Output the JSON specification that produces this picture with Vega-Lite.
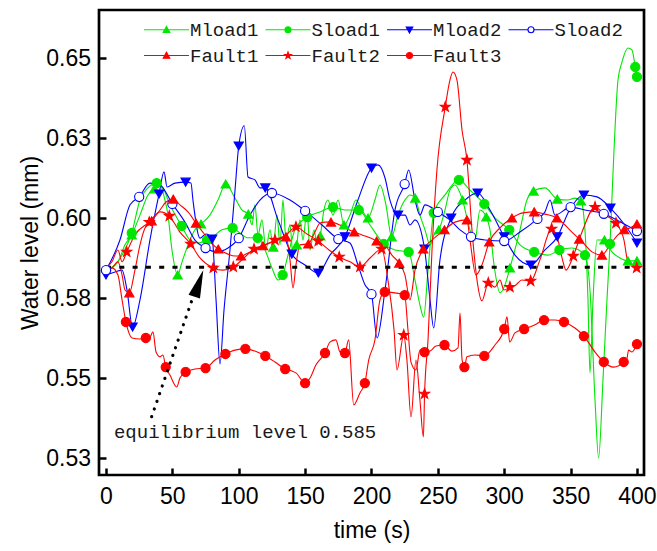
{
 "$schema": "https://vega.github.io/schema/vega-lite/v6.json",
 "width": 545, "height": 465,
 "autosize": {"type": "none"},
 "padding": {"left": 99, "top": 10, "right": 13, "bottom": 76},
 "background": "white",
 "config": {
  "view": {"stroke": "black", "strokeWidth": 2.7},
  "axis": {"domain": false, "grid": false, "tickColor": "black", "tickWidth": 2.5, "tickSize": -7,
   "labelFont": "Liberation Sans", "labelFontSize": 23, "labelColor": "black",
   "titleFont": "Liberation Sans", "titleFontSize": 23, "titleFontWeight": "normal", "titleColor": "black"}
 },
 "datasets": {
  "series": [
{"s":"Mload1","t":0,"v":0.5888,"m":0},{"s":"Mload1","t":9,"v":0.5914,"m":0},{"s":"Mload1","t":14.3,"v":0.5967,"m":0},{"s":"Mload1","t":19.4,"v":0.5998,"m":1},{"s":"Mload1","t":25.6,"v":0.606,"m":0},{"s":"Mload1","t":31.6,"v":0.6123,"m":0},{"s":"Mload1","t":36.4,"v":0.6142,"m":1},{"s":"Mload1","t":40.7,"v":0.6154,"m":0},{"s":"Mload1","t":44.4,"v":0.6107,"m":0},{"s":"Mload1","t":46.7,"v":0.606,"m":0},{"s":"Mload1","t":49.7,"v":0.5951,"m":0},{"s":"Mload1","t":54,"v":0.5873,"m":1},{"s":"Mload1","t":57.3,"v":0.5914,"m":0},{"s":"Mload1","t":61.8,"v":0.5967,"m":0},{"s":"Mload1","t":67,"v":0.6014,"m":0},{"s":"Mload1","t":71.6,"v":0.6032,"m":1},{"s":"Mload1","t":78.3,"v":0.606,"m":0},{"s":"Mload1","t":84.4,"v":0.6107,"m":0},{"s":"Mload1","t":90.2,"v":0.6157,"m":1},{"s":"Mload1","t":97.2,"v":0.6113,"m":0},{"s":"Mload1","t":102.4,"v":0.6076,"m":0},{"s":"Mload1","t":107.2,"v":0.6063,"m":1},{"s":"Mload1","t":110,"v":0.6029,"m":0},{"s":"Mload1","t":112.2,"v":0.6092,"m":0},{"s":"Mload1","t":114.5,"v":0.5998,"m":0},{"s":"Mload1","t":117.5,"v":0.6045,"m":0},{"s":"Mload1","t":120.5,"v":0.5951,"m":0},{"s":"Mload1","t":123.5,"v":0.6014,"m":0},{"s":"Mload1","t":126,"v":0.596,"m":1},{"s":"Mload1","t":128.8,"v":0.606,"m":0},{"s":"Mload1","t":131.1,"v":0.5967,"m":0},{"s":"Mload1","t":133.3,"v":0.6107,"m":0},{"s":"Mload1","t":135.6,"v":0.5982,"m":0},{"s":"Mload1","t":138.6,"v":0.6029,"m":0},{"s":"Mload1","t":140.9,"v":0.5935,"m":0},{"s":"Mload1","t":143.7,"v":0.5967,"m":1},{"s":"Mload1","t":146.1,"v":0.6045,"m":0},{"s":"Mload1","t":148.4,"v":0.5982,"m":0},{"s":"Mload1","t":151.4,"v":0.6076,"m":0},{"s":"Mload1","t":153.7,"v":0.5951,"m":0},{"s":"Mload1","t":156.7,"v":0.6014,"m":0},{"s":"Mload1","t":159,"v":0.5967,"m":0},{"s":"Mload1","t":161.4,"v":0.5995,"m":1},{"s":"Mload1","t":164.2,"v":0.6076,"m":0},{"s":"Mload1","t":167.2,"v":0.6107,"m":0},{"s":"Mload1","t":171,"v":0.606,"m":0},{"s":"Mload1","t":174.8,"v":0.6107,"m":0},{"s":"Mload1","t":179.3,"v":0.6029,"m":1},{"s":"Mload1","t":183.8,"v":0.606,"m":0},{"s":"Mload1","t":188.3,"v":0.6107,"m":0},{"s":"Mload1","t":192.8,"v":0.6076,"m":0},{"s":"Mload1","t":197.4,"v":0.6051,"m":1},{"s":"Mload1","t":202.6,"v":0.6107,"m":0},{"s":"Mload1","t":206.4,"v":0.6154,"m":0},{"s":"Mload1","t":210.9,"v":0.6092,"m":0},{"s":"Mload1","t":215.2,"v":0.5992,"m":1},{"s":"Mload1","t":220,"v":0.606,"m":0},{"s":"Mload1","t":225.2,"v":0.6107,"m":0},{"s":"Mload1","t":229,"v":0.6123,"m":0},{"s":"Mload1","t":233,"v":0.6113,"m":1},{"s":"Mload1","t":236.5,"v":0.606,"m":0},{"s":"Mload1","t":240.3,"v":0.6014,"m":0},{"s":"Mload1","t":244.1,"v":0.5967,"m":0},{"s":"Mload1","t":247.1,"v":0.5998,"m":0},{"s":"Mload1","t":250.8,"v":0.6014,"m":1},{"s":"Mload1","t":255.4,"v":0.6076,"m":0},{"s":"Mload1","t":259.1,"v":0.6138,"m":0},{"s":"Mload1","t":262.9,"v":0.6154,"m":0},{"s":"Mload1","t":268.6,"v":0.6107,"m":1},{"s":"Mload1","t":274.2,"v":0.6014,"m":0},{"s":"Mload1","t":278,"v":0.5982,"m":0},{"s":"Mload1","t":281.7,"v":0.6076,"m":0},{"s":"Mload1","t":286.5,"v":0.6054,"m":1},{"s":"Mload1","t":289.3,"v":0.6014,"m":0},{"s":"Mload1","t":292.3,"v":0.5905,"m":0},{"s":"Mload1","t":296.8,"v":0.5817,"m":0},{"s":"Mload1","t":300.6,"v":0.5842,"m":0},{"s":"Mload1","t":304.3,"v":0.5895,"m":1},{"s":"Mload1","t":311.9,"v":0.6014,"m":0},{"s":"Mload1","t":317.1,"v":0.6107,"m":0},{"s":"Mload1","t":322.1,"v":0.6135,"m":1},{"s":"Mload1","t":330.7,"v":0.6145,"m":0},{"s":"Mload1","t":340,"v":0.611,"m":1},{"s":"Mload1","t":348,"v":0.6107,"m":0},{"s":"Mload1","t":353.3,"v":0.6113,"m":0},{"s":"Mload1","t":357.8,"v":0.6104,"m":1},{"s":"Mload1","t":360.8,"v":0.6014,"m":0},{"s":"Mload1","t":363.1,"v":0.5795,"m":0},{"s":"Mload1","t":364.6,"v":0.5567,"m":0},{"s":"Mload1","t":366.9,"v":0.5795,"m":0},{"s":"Mload1","t":369.9,"v":0.5982,"m":0},{"s":"Mload1","t":375.5,"v":0.5982,"m":1},{"s":"Mload1","t":381.2,"v":0.5945,"m":0},{"s":"Mload1","t":387.2,"v":0.5926,"m":0},{"s":"Mload1","t":393.2,"v":0.5917,"m":1},{"s":"Mload1","t":400,"v":0.5917,"m":1},
{"s":"Sload1","t":0,"v":0.5882,"m":0},{"s":"Sload1","t":6.8,"v":0.5904,"m":0},{"s":"Sload1","t":12.1,"v":0.5935,"m":0},{"s":"Sload1","t":19.4,"v":0.6004,"m":1},{"s":"Sload1","t":25.6,"v":0.6107,"m":0},{"s":"Sload1","t":31.6,"v":0.6145,"m":0},{"s":"Sload1","t":38.2,"v":0.616,"m":1},{"s":"Sload1","t":42.9,"v":0.6145,"m":0},{"s":"Sload1","t":48.2,"v":0.6092,"m":0},{"s":"Sload1","t":57,"v":0.6026,"m":1},{"s":"Sload1","t":63.3,"v":0.5982,"m":0},{"s":"Sload1","t":69.3,"v":0.5973,"m":0},{"s":"Sload1","t":76.1,"v":0.5982,"m":1},{"s":"Sload1","t":82.1,"v":0.5998,"m":0},{"s":"Sload1","t":87.4,"v":0.6014,"m":0},{"s":"Sload1","t":95.4,"v":0.602,"m":1},{"s":"Sload1","t":100.9,"v":0.6004,"m":0},{"s":"Sload1","t":107,"v":0.5989,"m":0},{"s":"Sload1","t":114.3,"v":0.5989,"m":1},{"s":"Sload1","t":119.8,"v":0.5951,"m":0},{"s":"Sload1","t":125,"v":0.5895,"m":0},{"s":"Sload1","t":129.6,"v":0.5857,"m":0},{"s":"Sload1","t":133.1,"v":0.5873,"m":1},{"s":"Sload1","t":137.1,"v":0.5935,"m":0},{"s":"Sload1","t":142.4,"v":0.6014,"m":0},{"s":"Sload1","t":151.6,"v":0.6054,"m":1},{"s":"Sload1","t":161.2,"v":0.607,"m":0},{"s":"Sload1","t":171,"v":0.6085,"m":1},{"s":"Sload1","t":180,"v":0.6076,"m":0},{"s":"Sload1","t":190.4,"v":0.6076,"m":1},{"s":"Sload1","t":198.9,"v":0.6029,"m":0},{"s":"Sload1","t":209.2,"v":0.597,"m":1},{"s":"Sload1","t":217.7,"v":0.5951,"m":0},{"s":"Sload1","t":228,"v":0.5945,"m":1},{"s":"Sload1","t":232.8,"v":0.5857,"m":0},{"s":"Sload1","t":236.5,"v":0.5779,"m":0},{"s":"Sload1","t":239.3,"v":0.5741,"m":0},{"s":"Sload1","t":242.6,"v":0.5888,"m":0},{"s":"Sload1","t":246.9,"v":0.6067,"m":1},{"s":"Sload1","t":255.4,"v":0.6123,"m":0},{"s":"Sload1","t":265.9,"v":0.617,"m":1},{"s":"Sload1","t":274.2,"v":0.6138,"m":0},{"s":"Sload1","t":285,"v":0.6095,"m":1},{"s":"Sload1","t":293,"v":0.6051,"m":0},{"s":"Sload1","t":303.8,"v":0.6014,"m":1},{"s":"Sload1","t":311.9,"v":0.5967,"m":0},{"s":"Sload1","t":322.6,"v":0.5945,"m":1},{"s":"Sload1","t":333,"v":0.5935,"m":0},{"s":"Sload1","t":341.6,"v":0.5951,"m":1},{"s":"Sload1","t":351,"v":0.5957,"m":0},{"s":"Sload1","t":360.8,"v":0.5935,"m":1},{"s":"Sload1","t":364.6,"v":0.5826,"m":0},{"s":"Sload1","t":368.4,"v":0.5482,"m":0},{"s":"Sload1","t":371.1,"v":0.5301,"m":0},{"s":"Sload1","t":374.4,"v":0.5545,"m":0},{"s":"Sload1","t":377.4,"v":0.5795,"m":0},{"s":"Sload1","t":379.7,"v":0.597,"m":1},{"s":"Sload1","t":382.7,"v":0.6263,"m":0},{"s":"Sload1","t":385.7,"v":0.6482,"m":0},{"s":"Sload1","t":388.7,"v":0.6538,"m":0},{"s":"Sload1","t":393.2,"v":0.6582,"m":0},{"s":"Sload1","t":396.2,"v":0.6576,"m":0},{"s":"Sload1","t":398.7,"v":0.6523,"m":1},{"s":"Sload1","t":400,"v":0.6492,"m":1},
{"s":"Mload2","t":0,"v":0.5873,"m":1},{"s":"Mload2","t":6.8,"v":0.5882,"m":0},{"s":"Mload2","t":12.1,"v":0.5888,"m":0},{"s":"Mload2","t":15.8,"v":0.5826,"m":0},{"s":"Mload2","t":20,"v":0.571,"m":1},{"s":"Mload2","t":25.6,"v":0.5795,"m":0},{"s":"Mload2","t":33.1,"v":0.5982,"m":0},{"s":"Mload2","t":40,"v":0.6126,"m":1},{"s":"Mload2","t":43.7,"v":0.6195,"m":0},{"s":"Mload2","t":46,"v":0.6148,"m":0},{"s":"Mload2","t":52,"v":0.616,"m":0},{"s":"Mload2","t":60,"v":0.6163,"m":1},{"s":"Mload2","t":64,"v":0.616,"m":0},{"s":"Mload2","t":65.5,"v":0.6107,"m":0},{"s":"Mload2","t":70.8,"v":0.5988,"m":0},{"s":"Mload2","t":75.3,"v":0.6001,"m":0},{"s":"Mload2","t":80,"v":0.5985,"m":1},{"s":"Mload2","t":82.9,"v":0.5795,"m":0},{"s":"Mload2","t":85.9,"v":0.5595,"m":0},{"s":"Mload2","t":88.9,"v":0.5763,"m":0},{"s":"Mload2","t":93.4,"v":0.5951,"m":0},{"s":"Mload2","t":97.2,"v":0.6138,"m":0},{"s":"Mload2","t":100,"v":0.6276,"m":1},{"s":"Mload2","t":104.2,"v":0.6339,"m":0},{"s":"Mload2","t":107,"v":0.6179,"m":0},{"s":"Mload2","t":112.2,"v":0.617,"m":0},{"s":"Mload2","t":116,"v":0.6145,"m":0},{"s":"Mload2","t":120,"v":0.6145,"m":1},{"s":"Mload2","t":129.6,"v":0.6045,"m":0},{"s":"Mload2","t":140,"v":0.5938,"m":1},{"s":"Mload2","t":149.9,"v":0.5904,"m":0},{"s":"Mload2","t":160,"v":0.5879,"m":1},{"s":"Mload2","t":168.7,"v":0.5935,"m":0},{"s":"Mload2","t":180,"v":0.5992,"m":1},{"s":"Mload2","t":189.8,"v":0.6107,"m":0},{"s":"Mload2","t":200,"v":0.6207,"m":1},{"s":"Mload2","t":204.9,"v":0.6217,"m":0},{"s":"Mload2","t":210.2,"v":0.6176,"m":0},{"s":"Mload2","t":213.9,"v":0.6107,"m":0},{"s":"Mload2","t":220,"v":0.606,"m":1},{"s":"Mload2","t":225.3,"v":0.606,"m":0},{"s":"Mload2","t":229,"v":0.6029,"m":0},{"s":"Mload2","t":232.8,"v":0.6045,"m":0},{"s":"Mload2","t":240,"v":0.5954,"m":1},{"s":"Mload2","t":244.1,"v":0.5795,"m":0},{"s":"Mload2","t":246.9,"v":0.5707,"m":0},{"s":"Mload2","t":251.6,"v":0.592,"m":0},{"s":"Mload2","t":260,"v":0.6051,"m":1},{"s":"Mload2","t":270.4,"v":0.6107,"m":0},{"s":"Mload2","t":280,"v":0.6129,"m":1},{"s":"Mload2","t":289.3,"v":0.6076,"m":0},{"s":"Mload2","t":300,"v":0.5992,"m":1},{"s":"Mload2","t":308.1,"v":0.5935,"m":0},{"s":"Mload2","t":320,"v":0.5904,"m":1},{"s":"Mload2","t":330.7,"v":0.5951,"m":0},{"s":"Mload2","t":340,"v":0.5992,"m":1},{"s":"Mload2","t":349.2,"v":0.6076,"m":0},{"s":"Mload2","t":360,"v":0.6123,"m":1},{"s":"Mload2","t":369.9,"v":0.6117,"m":0},{"s":"Mload2","t":380,"v":0.6082,"m":1},{"s":"Mload2","t":390.9,"v":0.6029,"m":0},{"s":"Mload2","t":400,"v":0.5973,"m":1},
{"s":"Sload2","t":0,"v":0.5888,"m":1},{"s":"Sload2","t":10.5,"v":0.5982,"m":0},{"s":"Sload2","t":18.1,"v":0.6092,"m":0},{"s":"Sload2","t":25,"v":0.6117,"m":1},{"s":"Sload2","t":33.1,"v":0.616,"m":0},{"s":"Sload2","t":40.7,"v":0.6154,"m":0},{"s":"Sload2","t":50,"v":0.6095,"m":1},{"s":"Sload2","t":59.5,"v":0.6038,"m":0},{"s":"Sload2","t":67,"v":0.5982,"m":0},{"s":"Sload2","t":75,"v":0.5957,"m":1},{"s":"Sload2","t":82.9,"v":0.5945,"m":0},{"s":"Sload2","t":91.9,"v":0.5957,"m":0},{"s":"Sload2","t":100,"v":0.5988,"m":1},{"s":"Sload2","t":108.5,"v":0.606,"m":0},{"s":"Sload2","t":116,"v":0.6107,"m":0},{"s":"Sload2","t":125,"v":0.6129,"m":1},{"s":"Sload2","t":138.6,"v":0.6107,"m":0},{"s":"Sload2","t":150,"v":0.6073,"m":1},{"s":"Sload2","t":162.7,"v":0.6029,"m":0},{"s":"Sload2","t":175,"v":0.5985,"m":1},{"s":"Sload2","t":183.8,"v":0.5973,"m":0},{"s":"Sload2","t":189.8,"v":0.5904,"m":0},{"s":"Sload2","t":195.1,"v":0.5842,"m":0},{"s":"Sload2","t":200,"v":0.5813,"m":1},{"s":"Sload2","t":204.2,"v":0.5676,"m":0},{"s":"Sload2","t":210.2,"v":0.5826,"m":0},{"s":"Sload2","t":217.7,"v":0.6076,"m":0},{"s":"Sload2","t":225,"v":0.6157,"m":1},{"s":"Sload2","t":228,"v":0.6201,"m":0},{"s":"Sload2","t":232.8,"v":0.6107,"m":0},{"s":"Sload2","t":236.5,"v":0.606,"m":0},{"s":"Sload2","t":240.3,"v":0.6092,"m":0},{"s":"Sload2","t":250,"v":0.607,"m":1},{"s":"Sload2","t":259.1,"v":0.6045,"m":0},{"s":"Sload2","t":266.7,"v":0.6014,"m":0},{"s":"Sload2","t":275,"v":0.5992,"m":1},{"s":"Sload2","t":285.6,"v":0.5982,"m":0},{"s":"Sload2","t":300,"v":0.5979,"m":1},{"s":"Sload2","t":311.9,"v":0.6007,"m":0},{"s":"Sload2","t":325,"v":0.6048,"m":1},{"s":"Sload2","t":330.7,"v":0.607,"m":0},{"s":"Sload2","t":334.5,"v":0.6107,"m":0},{"s":"Sload2","t":338.2,"v":0.606,"m":0},{"s":"Sload2","t":350,"v":0.6085,"m":1},{"s":"Sload2","t":360.8,"v":0.6076,"m":0},{"s":"Sload2","t":375,"v":0.6064,"m":1},{"s":"Sload2","t":387.2,"v":0.6039,"m":0},{"s":"Sload2","t":400,"v":0.601,"m":1},
{"s":"Fault1","t":0,"v":0.5888,"m":0},{"s":"Fault1","t":4.5,"v":0.5895,"m":0},{"s":"Fault1","t":9,"v":0.5914,"m":0},{"s":"Fault1","t":12.1,"v":0.5873,"m":0},{"s":"Fault1","t":14.3,"v":0.5826,"m":0},{"s":"Fault1","t":17.6,"v":0.5817,"m":1},{"s":"Fault1","t":21.8,"v":0.5888,"m":0},{"s":"Fault1","t":25.6,"v":0.5967,"m":0},{"s":"Fault1","t":29.4,"v":0.602,"m":0},{"s":"Fault1","t":34.4,"v":0.6042,"m":1},{"s":"Fault1","t":40.7,"v":0.6076,"m":0},{"s":"Fault1","t":45.2,"v":0.6101,"m":0},{"s":"Fault1","t":50.7,"v":0.611,"m":1},{"s":"Fault1","t":55.7,"v":0.6092,"m":0},{"s":"Fault1","t":61.8,"v":0.607,"m":0},{"s":"Fault1","t":67.8,"v":0.6035,"m":1},{"s":"Fault1","t":74.6,"v":0.5998,"m":0},{"s":"Fault1","t":79.9,"v":0.597,"m":0},{"s":"Fault1","t":84.6,"v":0.5954,"m":1},{"s":"Fault1","t":91.9,"v":0.5938,"m":0},{"s":"Fault1","t":97.2,"v":0.5932,"m":0},{"s":"Fault1","t":101.7,"v":0.5932,"m":1},{"s":"Fault1","t":108.5,"v":0.5945,"m":0},{"s":"Fault1","t":113,"v":0.5951,"m":0},{"s":"Fault1","t":118.3,"v":0.5964,"m":1},{"s":"Fault1","t":123.5,"v":0.5973,"m":0},{"s":"Fault1","t":129.6,"v":0.5982,"m":0},{"s":"Fault1","t":135.6,"v":0.5992,"m":1},{"s":"Fault1","t":138.6,"v":0.592,"m":0},{"s":"Fault1","t":140.9,"v":0.5832,"m":0},{"s":"Fault1","t":143.1,"v":0.5904,"m":0},{"s":"Fault1","t":146.1,"v":0.5967,"m":0},{"s":"Fault1","t":152.4,"v":0.597,"m":1},{"s":"Fault1","t":157.4,"v":0.6007,"m":0},{"s":"Fault1","t":161.2,"v":0.6035,"m":0},{"s":"Fault1","t":165,"v":0.6038,"m":0},{"s":"Fault1","t":169.5,"v":0.6038,"m":1},{"s":"Fault1","t":176.3,"v":0.6029,"m":0},{"s":"Fault1","t":181.5,"v":0.6017,"m":0},{"s":"Fault1","t":187,"v":0.6007,"m":1},{"s":"Fault1","t":192.8,"v":0.5998,"m":0},{"s":"Fault1","t":198.9,"v":0.5989,"m":0},{"s":"Fault1","t":203.9,"v":0.5979,"m":1},{"s":"Fault1","t":210.2,"v":0.5967,"m":0},{"s":"Fault1","t":215.4,"v":0.5935,"m":0},{"s":"Fault1","t":220.9,"v":0.591,"m":1},{"s":"Fault1","t":225.2,"v":0.5873,"m":0},{"s":"Fault1","t":229,"v":0.5795,"m":0},{"s":"Fault1","t":232.8,"v":0.5888,"m":0},{"s":"Fault1","t":239,"v":0.5954,"m":1},{"s":"Fault1","t":245.6,"v":0.5982,"m":0},{"s":"Fault1","t":255,"v":0.6014,"m":1},{"s":"Fault1","t":262.9,"v":0.6038,"m":0},{"s":"Fault1","t":271.9,"v":0.6045,"m":1},{"s":"Fault1","t":274.2,"v":0.5982,"m":0},{"s":"Fault1","t":278.7,"v":0.5873,"m":0},{"s":"Fault1","t":283.2,"v":0.5904,"m":0},{"s":"Fault1","t":288.7,"v":0.5976,"m":1},{"s":"Fault1","t":296.8,"v":0.602,"m":0},{"s":"Fault1","t":305.8,"v":0.6051,"m":1},{"s":"Fault1","t":314.1,"v":0.6067,"m":0},{"s":"Fault1","t":322.6,"v":0.607,"m":1},{"s":"Fault1","t":330.7,"v":0.6063,"m":0},{"s":"Fault1","t":339.7,"v":0.6051,"m":1},{"s":"Fault1","t":345.8,"v":0.6029,"m":0},{"s":"Fault1","t":351,"v":0.6007,"m":0},{"s":"Fault1","t":356.5,"v":0.5985,"m":1},{"s":"Fault1","t":360.8,"v":0.5967,"m":0},{"s":"Fault1","t":366.1,"v":0.5945,"m":0},{"s":"Fault1","t":373.6,"v":0.5935,"m":1},{"s":"Fault1","t":379.7,"v":0.5967,"m":0},{"s":"Fault1","t":385.7,"v":0.5998,"m":0},{"s":"Fault1","t":390.4,"v":0.6014,"m":1},{"s":"Fault1","t":394.7,"v":0.602,"m":0},{"s":"Fault1","t":400,"v":0.6032,"m":1},
{"s":"Fault2","t":0,"v":0.5895,"m":0},{"s":"Fault2","t":4.5,"v":0.5914,"m":0},{"s":"Fault2","t":9,"v":0.5951,"m":0},{"s":"Fault2","t":12.1,"v":0.5914,"m":0},{"s":"Fault2","t":15.6,"v":0.5945,"m":1},{"s":"Fault2","t":21.8,"v":0.5998,"m":0},{"s":"Fault2","t":32.6,"v":0.6038,"m":1},{"s":"Fault2","t":40.7,"v":0.607,"m":0},{"s":"Fault2","t":47.7,"v":0.6057,"m":1},{"s":"Fault2","t":55.7,"v":0.6007,"m":0},{"s":"Fault2","t":63.8,"v":0.597,"m":1},{"s":"Fault2","t":70.8,"v":0.5926,"m":0},{"s":"Fault2","t":80.8,"v":0.5895,"m":1},{"s":"Fault2","t":88.1,"v":0.5888,"m":0},{"s":"Fault2","t":95.9,"v":0.5898,"m":1},{"s":"Fault2","t":104,"v":0.5926,"m":0},{"s":"Fault2","t":111.5,"v":0.5954,"m":1},{"s":"Fault2","t":119.8,"v":0.5967,"m":0},{"s":"Fault2","t":127.3,"v":0.5982,"m":1},{"s":"Fault2","t":135.6,"v":0.5998,"m":0},{"s":"Fault2","t":143.1,"v":0.6023,"m":1},{"s":"Fault2","t":151.4,"v":0.6001,"m":0},{"s":"Fault2","t":159.9,"v":0.5979,"m":1},{"s":"Fault2","t":168,"v":0.5951,"m":0},{"s":"Fault2","t":175.7,"v":0.5929,"m":1},{"s":"Fault2","t":183.8,"v":0.5914,"m":0},{"s":"Fault2","t":191.3,"v":0.5898,"m":1},{"s":"Fault2","t":198.9,"v":0.5926,"m":0},{"s":"Fault2","t":207.7,"v":0.5954,"m":1},{"s":"Fault2","t":212.4,"v":0.5857,"m":0},{"s":"Fault2","t":217,"v":0.5701,"m":0},{"s":"Fault2","t":219.2,"v":0.5576,"m":0},{"s":"Fault2","t":224.3,"v":0.5685,"m":1},{"s":"Fault2","t":226.7,"v":0.5607,"m":0},{"s":"Fault2","t":229.8,"v":0.5429,"m":0},{"s":"Fault2","t":233.5,"v":0.5607,"m":0},{"s":"Fault2","t":236.5,"v":0.5482,"m":0},{"s":"Fault2","t":239.1,"v":0.5367,"m":0},{"s":"Fault2","t":240,"v":0.5501,"m":1},{"s":"Fault2","t":242.6,"v":0.567,"m":0},{"s":"Fault2","t":245.6,"v":0.5951,"m":0},{"s":"Fault2","t":249.3,"v":0.6201,"m":0},{"s":"Fault2","t":255.6,"v":0.6398,"m":1},{"s":"Fault2","t":259.1,"v":0.6482,"m":0},{"s":"Fault2","t":261.4,"v":0.6507,"m":0},{"s":"Fault2","t":264.4,"v":0.6482,"m":0},{"s":"Fault2","t":268.2,"v":0.6326,"m":0},{"s":"Fault2","t":271.9,"v":0.6232,"m":1},{"s":"Fault2","t":275.7,"v":0.6014,"m":0},{"s":"Fault2","t":279.5,"v":0.5857,"m":0},{"s":"Fault2","t":283.2,"v":0.5792,"m":0},{"s":"Fault2","t":288,"v":0.5848,"m":1},{"s":"Fault2","t":293,"v":0.5835,"m":0},{"s":"Fault2","t":296.8,"v":0.5857,"m":0},{"s":"Fault2","t":299.8,"v":0.5826,"m":0},{"s":"Fault2","t":304.3,"v":0.5835,"m":1},{"s":"Fault2","t":308.8,"v":0.5842,"m":0},{"s":"Fault2","t":313.3,"v":0.5857,"m":0},{"s":"Fault2","t":319.9,"v":0.5854,"m":1},{"s":"Fault2","t":326.9,"v":0.592,"m":0},{"s":"Fault2","t":335.7,"v":0.6017,"m":1},{"s":"Fault2","t":340.5,"v":0.5982,"m":0},{"s":"Fault2","t":344.3,"v":0.5914,"m":0},{"s":"Fault2","t":346.5,"v":0.5888,"m":0},{"s":"Fault2","t":352,"v":0.5932,"m":1},{"s":"Fault2","t":358.6,"v":0.6007,"m":0},{"s":"Fault2","t":368.4,"v":0.6085,"m":1},{"s":"Fault2","t":375.9,"v":0.606,"m":0},{"s":"Fault2","t":384.2,"v":0.6035,"m":1},{"s":"Fault2","t":390.2,"v":0.5982,"m":0},{"s":"Fault2","t":393.2,"v":0.5914,"m":0},{"s":"Fault2","t":397,"v":0.5904,"m":0},{"s":"Fault2","t":399.8,"v":0.5895,"m":1},
{"s":"Fault3","t":0,"v":0.5888,"m":0},{"s":"Fault3","t":4.5,"v":0.5895,"m":0},{"s":"Fault3","t":9,"v":0.5873,"m":0},{"s":"Fault3","t":12.1,"v":0.5795,"m":0},{"s":"Fault3","t":15,"v":0.5726,"m":1},{"s":"Fault3","t":19.6,"v":0.5676,"m":0},{"s":"Fault3","t":25.6,"v":0.5673,"m":0},{"s":"Fault3","t":30,"v":0.5676,"m":1},{"s":"Fault3","t":33.1,"v":0.5679,"m":0},{"s":"Fault3","t":35.4,"v":0.5695,"m":0},{"s":"Fault3","t":37.7,"v":0.5632,"m":0},{"s":"Fault3","t":40.7,"v":0.5617,"m":0},{"s":"Fault3","t":42.9,"v":0.5623,"m":0},{"s":"Fault3","t":45,"v":0.5585,"m":1},{"s":"Fault3","t":48.2,"v":0.556,"m":0},{"s":"Fault3","t":53.3,"v":0.5523,"m":0},{"s":"Fault3","t":55.7,"v":0.5551,"m":0},{"s":"Fault3","t":60,"v":0.557,"m":1},{"s":"Fault3","t":67,"v":0.5579,"m":0},{"s":"Fault3","t":75,"v":0.5582,"m":1},{"s":"Fault3","t":82.1,"v":0.5607,"m":0},{"s":"Fault3","t":90,"v":0.5626,"m":1},{"s":"Fault3","t":97.2,"v":0.5638,"m":0},{"s":"Fault3","t":105,"v":0.5642,"m":1},{"s":"Fault3","t":112.2,"v":0.5635,"m":0},{"s":"Fault3","t":120,"v":0.562,"m":1},{"s":"Fault3","t":127.3,"v":0.5601,"m":0},{"s":"Fault3","t":135,"v":0.5579,"m":1},{"s":"Fault3","t":140.1,"v":0.5573,"m":0},{"s":"Fault3","t":143.1,"v":0.5567,"m":0},{"s":"Fault3","t":150,"v":0.5535,"m":1},{"s":"Fault3","t":153.7,"v":0.5551,"m":0},{"s":"Fault3","t":158.2,"v":0.5592,"m":0},{"s":"Fault3","t":165,"v":0.5629,"m":1},{"s":"Fault3","t":168.7,"v":0.5663,"m":0},{"s":"Fault3","t":173.2,"v":0.567,"m":0},{"s":"Fault3","t":176.3,"v":0.5632,"m":0},{"s":"Fault3","t":180,"v":0.5629,"m":1},{"s":"Fault3","t":182.8,"v":0.567,"m":0},{"s":"Fault3","t":186.6,"v":0.5467,"m":0},{"s":"Fault3","t":191.3,"v":0.5504,"m":0},{"s":"Fault3","t":195,"v":0.5535,"m":1},{"s":"Fault3","t":197.9,"v":0.5607,"m":0},{"s":"Fault3","t":202.6,"v":0.567,"m":0},{"s":"Fault3","t":206.4,"v":0.5795,"m":0},{"s":"Fault3","t":210,"v":0.582,"m":1},{"s":"Fault3","t":217.7,"v":0.5817,"m":0},{"s":"Fault3","t":225,"v":0.581,"m":1},{"s":"Fault3","t":227.5,"v":0.5701,"m":0},{"s":"Fault3","t":229.8,"v":0.56,"m":0},{"s":"Fault3","t":233.5,"v":0.5576,"m":0},{"s":"Fault3","t":236.5,"v":0.5638,"m":0},{"s":"Fault3","t":240,"v":0.5632,"m":1},{"s":"Fault3","t":244.1,"v":0.5635,"m":0},{"s":"Fault3","t":248.6,"v":0.5651,"m":0},{"s":"Fault3","t":255,"v":0.5654,"m":1},{"s":"Fault3","t":260.6,"v":0.5635,"m":0},{"s":"Fault3","t":265.2,"v":0.5645,"m":0},{"s":"Fault3","t":266.7,"v":0.5754,"m":0},{"s":"Fault3","t":268.2,"v":0.561,"m":0},{"s":"Fault3","t":270,"v":0.5585,"m":1},{"s":"Fault3","t":271.9,"v":0.5617,"m":0},{"s":"Fault3","t":278,"v":0.5623,"m":0},{"s":"Fault3","t":285,"v":0.562,"m":1},{"s":"Fault3","t":293,"v":0.5654,"m":0},{"s":"Fault3","t":300,"v":0.5704,"m":1},{"s":"Fault3","t":302.1,"v":0.5742,"m":0},{"s":"Fault3","t":304.1,"v":0.5663,"m":0},{"s":"Fault3","t":308.1,"v":0.5692,"m":0},{"s":"Fault3","t":315,"v":0.5704,"m":1},{"s":"Fault3","t":323.2,"v":0.5717,"m":0},{"s":"Fault3","t":330,"v":0.5732,"m":1},{"s":"Fault3","t":338.2,"v":0.5732,"m":0},{"s":"Fault3","t":345,"v":0.5726,"m":1},{"s":"Fault3","t":353.3,"v":0.5707,"m":0},{"s":"Fault3","t":360,"v":0.5682,"m":1},{"s":"Fault3","t":368.4,"v":0.5632,"m":0},{"s":"Fault3","t":375,"v":0.5601,"m":1},{"s":"Fault3","t":382.5,"v":0.5585,"m":0},{"s":"Fault3","t":390,"v":0.5601,"m":1},{"s":"Fault3","t":392.5,"v":0.5613,"m":0},{"s":"Fault3","t":393.7,"v":0.5638,"m":0},{"s":"Fault3","t":396.2,"v":0.5632,"m":0},{"s":"Fault3","t":400,"v":0.5657,"m":1}
  ]
 },
 "layer": [
  {
   "data": {"name": "series"},
   "mark": {"type": "line", "strokeWidth": 1.1, "interpolate": "monotone"},
   "encoding": {
    "x": {"field": "t", "type": "quantitative", "scale": {"domain": [-5.27, 405.3], "nice": false, "zero": false},
     "axis": {"values": [0, 50, 100, 150, 200, 250, 300, 350, 400], "title": "time (s)", "labelPadding": 17,
      "titleX": 272.5, "titleY": 55, "titleBaseline": "middle", "titleAlign": "center"}},
    "y": {"field": "v", "type": "quantitative", "scale": {"domain": [0.52478, 0.67009], "nice": false, "zero": false},
     "axis": {"values": [0.53, 0.555, 0.58, 0.605, 0.63, 0.655], "labelPadding": 15.5,
      "labelExpr": "datum.value < 0.54 ? '0.53' : datum.value < 0.56 ? '0.55' : datum.value < 0.59 ? '0.58' : datum.value < 0.61 ? '0.60' : datum.value < 0.64 ? '0.63' : '0.65'",
      "title": "Water level (mm)", "titleX": -69, "titleY": 232.5, "titleAngle": 270, "titleBaseline": "middle", "titleAlign": "center"}},
    "stroke": {"field": "s", "type": "nominal", "legend": null,
     "scale": {"domain": ["Mload1", "Sload1", "Mload2", "Sload2", "Fault1", "Fault2", "Fault3"],
      "range": ["#00e600", "#00e600", "#0000ff", "#0000ff", "#ff0000", "#ff0000", "#ff0000"]}}
   }
  },
  {
   "data": {"values": [{"t": 0, "t1": 402, "v": 0.5897}]},
   "mark": {"type": "rule", "color": "black", "strokeWidth": 3, "strokeDash": [5, 8.3]},
   "encoding": {
    "x": {"field": "t", "type": "quantitative", "scale": {"domain": [-5.27, 405.3], "nice": false, "zero": false}, "title": "time (s)"},
    "x2": {"field": "t1"},
    "y": {"field": "v", "type": "quantitative", "scale": {"domain": [0.52478, 0.67009], "nice": false, "zero": false}, "title": "Water level (mm)"}
   }
  },
  {
   "data": {"name": "series"},
   "transform": [{"filter": "datum.m == 1"}],
   "mark": {"type": "point", "filled": true, "size": 85, "strokeWidth": 1.1, "opacity": 1},
   "encoding": {
    "x": {"field": "t", "type": "quantitative", "scale": {"domain": [-5.27, 405.3], "nice": false, "zero": false}, "title": "time (s)"},
    "y": {"field": "v", "type": "quantitative", "scale": {"domain": [0.52478, 0.67009], "nice": false, "zero": false}, "title": "Water level (mm)"},
    "shape": {"field": "s", "type": "nominal", "legend": null,
     "scale": {"domain": ["Mload1", "Sload1", "Mload2", "Sload2", "Fault1", "Fault2", "Fault3"],
      "range": ["triangle-up", "circle", "triangle-down", "circle", "triangle-up", "M0,-1.15L0.27,-0.37L1.09,-0.36L0.44,0.14L0.68,0.93L0,0.46L-0.68,0.93L-0.44,0.14L-1.09,-0.36L-0.27,-0.37Z", "circle"]}},
    "fill": {"field": "s", "type": "nominal", "legend": null,
     "scale": {"domain": ["Mload1", "Sload1", "Mload2", "Sload2", "Fault1", "Fault2", "Fault3"],
      "range": ["#00e600", "#00e600", "#0000ff", "#ffffff", "#ff0000", "#ff0000", "#ff0000"]}},
    "stroke": {"field": "s", "type": "nominal", "legend": null,
     "scale": {"domain": ["Mload1", "Sload1", "Mload2", "Sload2", "Fault1", "Fault2", "Fault3"],
      "range": ["#00e600", "#00e600", "#0000ff", "#0000ff", "#ff0000", "#ff0000", "#ff0000"]}}
   }
  },
  {
   "data": {"name": "series"},
   "transform": [{"filter": "datum.m == 1"}],
   "mark": {"type": "point", "filled": true, "opacity": 0},
   "encoding": {
    "x": {"field": "t", "type": "quantitative", "scale": {"domain": [-5.27, 405.3], "nice": false, "zero": false}, "title": "time (s)"},
    "y": {"field": "v", "type": "quantitative", "scale": {"domain": [0.52478, 0.67009], "nice": false, "zero": false}, "title": "Water level (mm)"},
    "shape": {"field": "s", "type": "nominal",
     "legend": {"title": null, "orient": "none", "direction": "horizontal", "legendX": 58, "legendY": 10, "columns": 4, "symbolSize": 144, "symbolStrokeWidth": 1.1, "symbolOpacity": 1,
      "labelFont": "Liberation Mono", "labelFontSize": 19, "labelColor": "#1a1a1a", "labelOffset": 14, "columnPadding": 3.5, "rowPadding": 6, "padding": 0},
     "scale": {"domain": ["Mload1", "Sload1", "Mload2", "Sload2", "Fault1", "Fault2", "Fault3"],
      "range": ["M-3.75,0H3.75M0,-0.55L0.55,0.45L-0.55,0.45Z",
       "M-3.75,0H3.75M-0.5,0A0.5,0.5 0 1,0 0.5,0A0.5,0.5 0 1,0 -0.5,0Z",
       "M-3.75,0H3.75M0,0.55L0.55,-0.45L-0.55,-0.45Z",
       "M-3.75,0H-0.5M0.5,0H3.75M-0.5,0A0.5,0.5 0 1,0 0.5,0A0.5,0.5 0 1,0 -0.5,0Z",
       "M-3.75,0H3.75M0,-0.55L0.55,0.45L-0.55,0.45Z",
       "M-3.75,0H3.75M0,-0.6L0.14,-0.19L0.57,-0.18L0.23,0.07L0.35,0.48L0,0.24L-0.35,0.48L-0.23,0.07L-0.57,-0.18L-0.14,-0.19Z",
       "M-3.75,0H3.75M-0.5,0A0.5,0.5 0 1,0 0.5,0A0.5,0.5 0 1,0 -0.5,0Z"]}},
    "fill": {"field": "s", "type": "nominal",
     "legend": {"title": null, "orient": "none", "direction": "horizontal", "legendX": 58, "legendY": 10, "columns": 4, "symbolSize": 144, "symbolStrokeWidth": 1.1, "symbolOpacity": 1,
      "labelFont": "Liberation Mono", "labelFontSize": 19, "labelColor": "#1a1a1a", "labelOffset": 14, "columnPadding": 3.5, "rowPadding": 6, "padding": 0},
     "scale": {"domain": ["Mload1", "Sload1", "Mload2", "Sload2", "Fault1", "Fault2", "Fault3"],
      "range": ["#00e600", "#00e600", "#0000ff", "#ffffff", "#ff0000", "#ff0000", "#ff0000"]}},
    "stroke": {"field": "s", "type": "nominal",
     "legend": {"title": null, "orient": "none", "direction": "horizontal", "legendX": 58, "legendY": 10, "columns": 4, "symbolSize": 144, "symbolStrokeWidth": 1.1, "symbolOpacity": 1,
      "labelFont": "Liberation Mono", "labelFontSize": 19, "labelColor": "#1a1a1a", "labelOffset": 14, "columnPadding": 3.5, "rowPadding": 6, "padding": 0},
     "scale": {"domain": ["Mload1", "Sload1", "Mload2", "Sload2", "Fault1", "Fault2", "Fault3"],
      "range": ["#00e600", "#00e600", "#0000ff", "#0000ff", "#ff0000", "#ff0000", "#ff0000"]}}
   }
  },
  {
   "data": {"values": [{"t": 34.4, "v": 0.543, "t2": 65.8, "v2": 0.5807}]},
   "mark": {"type": "rule", "color": "black", "strokeWidth": 3.2, "strokeDash": [0.1, 8], "strokeCap": "round"},
   "encoding": {
    "x": {"field": "t", "type": "quantitative", "scale": {"domain": [-5.27, 405.3], "nice": false, "zero": false}, "title": "time (s)"},
    "y": {"field": "v", "type": "quantitative", "scale": {"domain": [0.52478, 0.67009], "nice": false, "zero": false}, "title": "Water level (mm)"},
    "x2": {"field": "t2"},
    "y2": {"field": "v2"}
   }
  },
  {
   "data": {"values": [{"t": 69.9, "v": 0.5847}]},
   "mark": {"type": "point", "shape": "M0,-1L0.43,1L-0.43,1Z", "size": 795, "angle": 18.8, "filled": true, "color": "black", "opacity": 1, "strokeWidth": 0},
   "encoding": {
    "x": {"field": "t", "type": "quantitative", "scale": {"domain": [-5.27, 405.3], "nice": false, "zero": false}, "title": "time (s)"},
    "y": {"field": "v", "type": "quantitative", "scale": {"domain": [0.52478, 0.67009], "nice": false, "zero": false}, "title": "Water level (mm)"}
   }
  },
  {
   "data": {"values": [{"t": 6, "v": 0.5363, "label": "equilibrium level 0.585"}]},
   "mark": {"type": "text", "align": "left", "baseline": "alphabetic", "font": "Liberation Mono", "fontSize": 19, "color": "#1a1a1a"},
   "encoding": {
    "x": {"field": "t", "type": "quantitative", "scale": {"domain": [-5.27, 405.3], "nice": false, "zero": false}, "title": "time (s)"},
    "y": {"field": "v", "type": "quantitative", "scale": {"domain": [0.52478, 0.67009], "nice": false, "zero": false}, "title": "Water level (mm)"},
    "text": {"field": "label"}
   }
  }
 ],
 "resolve": {"scale": {"shape": "independent", "fill": "independent", "stroke": "independent"}}
}
